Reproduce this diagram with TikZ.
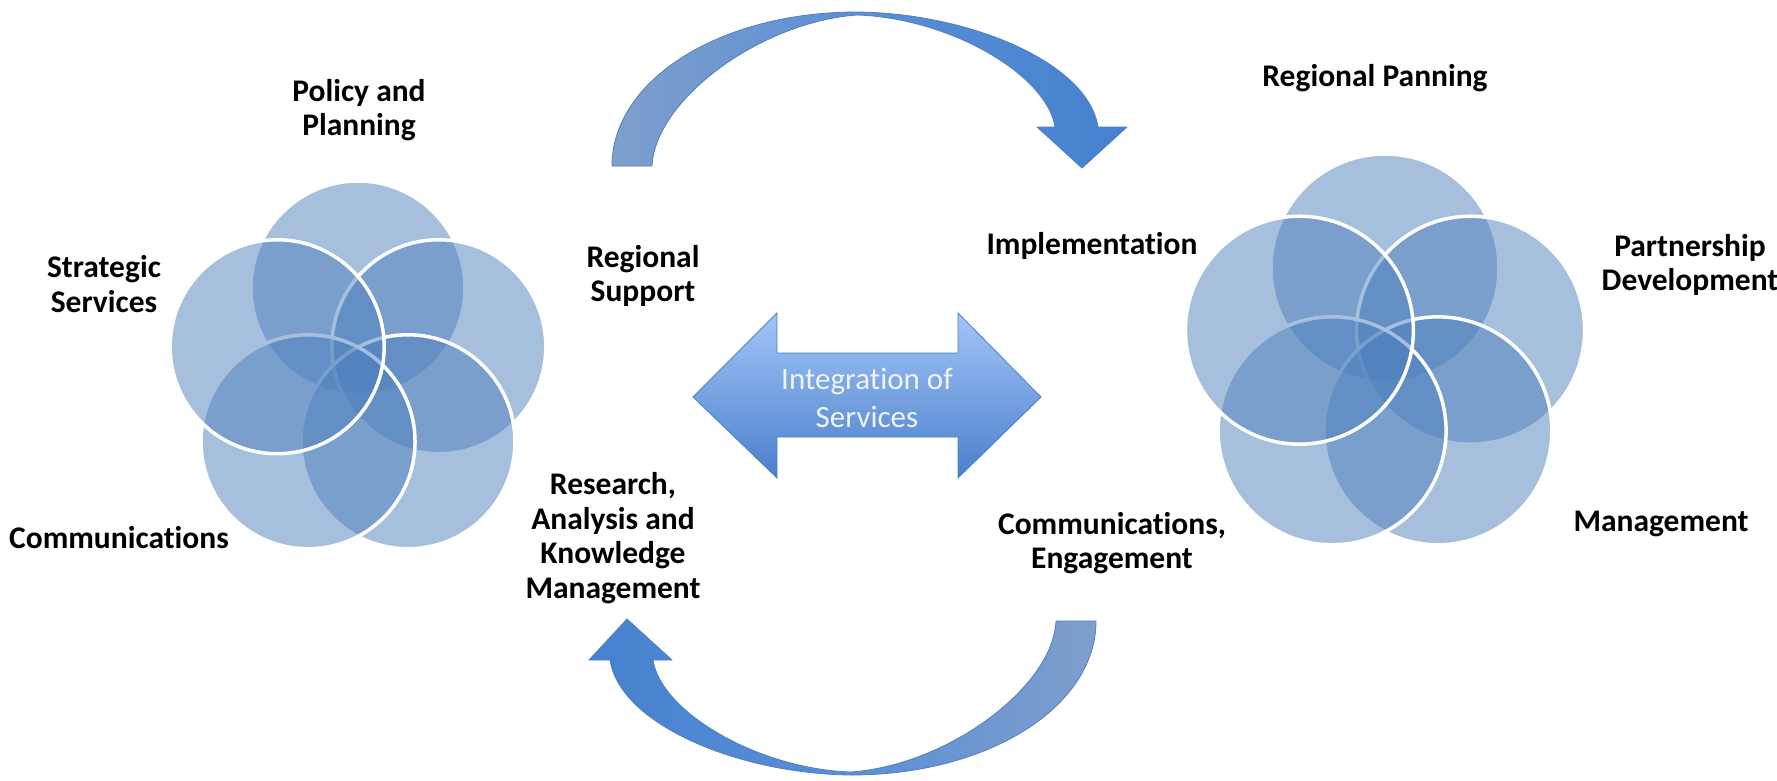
\documentclass[tikz,border=0pt]{standalone}
\usepackage{fontspec}
\setmainfont{Carlito}[Ligatures=NoCommon]
\definecolor{vennblue}{HTML}{4F81BD}
\definecolor{arrowlight}{HTML}{7F9FCD}
\definecolor{arrowmid}{HTML}{5A8ED6}
\definecolor{arrowdark}{HTML}{4581CF}
\definecolor{arrowedge}{HTML}{4F81BD}
\definecolor{dbltop}{HTML}{A3C5F7}
\definecolor{dblbot}{HTML}{4A7FCC}
\definecolor{dbltext}{HTML}{EEF4FC}
\begin{document}
\begin{tikzpicture}[x=1pt,y=-1pt,
  venn/.style={fill=vennblue, fill opacity=0.5, draw=white, line width=3.5pt},
  lbl/.style={font=\fontsize{31.5}{34.5}\selectfont\bfseries, align=center, inner sep=0pt, text=black},
  curvearrow/.style={draw=arrowedge, line width=0.8pt, line join=round},
  dblarrow/.style={draw=arrowedge, line width=0.8pt, top color=dbltop, bottom color=dblbot}]
\useasboundingbox (0,0) rectangle (1777,780);
\fill[white] (0,0) rectangle (1777,780);

% left cluster
\foreach \a in {-90,-18,54,126,198}
  \path[venn] (358,373) ++(\a:85) circle[radius=107pt];
% right cluster
\foreach \a in {-90,-18,54,126,198}
  \path[venn] (1385,358) ++(\a:90) circle[radius=114pt];

% top curved arrow
\draw[curvearrow, left color=arrowlight, right color=arrowdark, middle color=arrowmid]
  (612,166) .. controls (612,80) and (720,12) .. (857,12)
  .. controls (968,13) and (1088,62) .. (1098,127)
  -- (1127,127) -- (1082,168) -- (1037,127) -- (1055,127)
  .. controls (1047,75) and (950,18) .. (857,15)
  .. controls (760,22) and (655,100) .. (652,166) -- cycle;

% bottom curved arrow
\draw[curvearrow, left color=arrowdark, right color=arrowlight, middle color=arrowmid]
  (1096,621) .. controls (1096,707) and (988,775) .. (851,775)
  .. controls (740,774) and (620,725) .. (610,660)
  -- (589,660) -- (627,619) -- (672,660) -- (653,660)
  .. controls (661,712) and (758,769) .. (851,772)
  .. controls (948,765) and (1053,687) .. (1056,621) -- cycle;

% double arrow
\draw[dblarrow] (693,397) -- (777,313) -- (777,353) -- (958,353) -- (958,313)
  -- (1041,397) -- (958,478) -- (958,437) -- (777,437) -- (777,478) -- cycle;
\node[font=\fontsize{31}{37.5}\selectfont, align=center, inner sep=0pt, text=dbltext]
  (integ) at (867,398) {Integration of\\Services};

% labels
\node[lbl] (policy) at (359,110) {Policy and\\Planning};
\node[lbl] (strategic) at (104,284) {Strategic\\Services};
\node[lbl] (comm) at (119,538) {Communications};
\node[lbl] (support) at (643,276) {Regional\\Support};
\node[lbl] (research) at (613,538) {Research,\\Analysis and\\Knowledge\\Management};
\node[lbl] (rplan) at (1375,78) {Regional Panning};
\node[lbl] (impl) at (1092,246) {Implementation};
\node[lbl] (partner) at (1690,265) {Partnership\\Development};
\node[lbl] (mgmt) at (1661,524) {Management};
\node[lbl] (commeng) at (1112,543) {Communications,\\Engagement};
\end{tikzpicture}
\end{document}
